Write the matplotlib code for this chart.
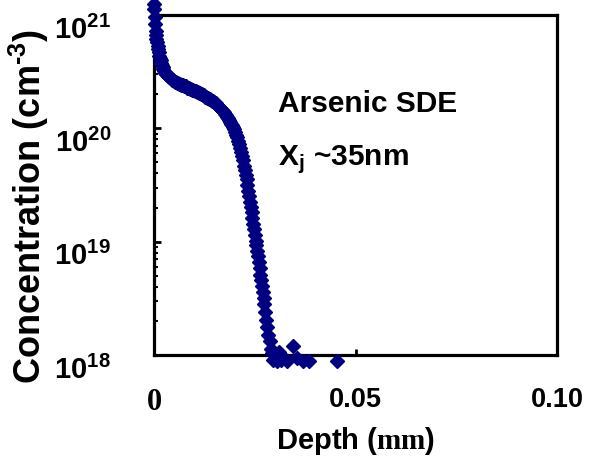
import matplotlib
matplotlib.use('Agg')
import matplotlib.pyplot as plt
from matplotlib.transforms import ScaledTranslation

# SIMS profile: depth (um) and log10 concentration (cm^-3)
depth = [0.00000, 0.00010, 0.00020, 0.00030, 0.00040, 0.00050, 0.00060, 0.00075, 0.00090, 0.00105,
         0.00120, 0.00135, 0.00150, 0.00165, 0.00180, 0.00195, 0.00215, 0.00235, 0.00255, 0.00280,
         0.00305, 0.00330, 0.00355, 0.00380, 0.00405, 0.00430, 0.00455, 0.00480, 0.00505, 0.00530,
         0.00555, 0.00580, 0.00605, 0.00630, 0.00655, 0.00680, 0.00705, 0.00730, 0.00755, 0.00780,
         0.00805, 0.00830, 0.00855, 0.00880, 0.00905, 0.00930, 0.00955, 0.00980, 0.01005, 0.01030,
         0.01055, 0.01080, 0.01105, 0.01130, 0.01155, 0.01180, 0.01205, 0.01230, 0.01255, 0.01280,
         0.01305, 0.01330, 0.01355, 0.01380, 0.01405, 0.01430, 0.01455, 0.01480, 0.01505, 0.01530,
         0.01555, 0.01580, 0.01605, 0.01630, 0.01655, 0.01680, 0.01705, 0.01730, 0.01755, 0.01780,
         0.01805, 0.01830, 0.01855, 0.01880, 0.01905, 0.01930, 0.01955, 0.01980, 0.02005, 0.02030,
         0.02055, 0.02080, 0.02105, 0.02130, 0.02155, 0.02180, 0.02205, 0.02230, 0.02255, 0.02280,
         0.02300, 0.02320, 0.02340, 0.02360, 0.02380, 0.02400, 0.02420, 0.02440, 0.02460, 0.02480,
         0.02500, 0.02520, 0.02540, 0.02560, 0.02580, 0.02600, 0.02620, 0.02640, 0.02660, 0.02680,
         0.02700, 0.02720, 0.02740, 0.02760, 0.02780, 0.02800, 0.02830, 0.02870, 0.02900, 0.02930,
         0.02960, 0.03000, 0.03050, 0.03100, 0.03150, 0.03200, 0.03300, 0.03450, 0.03550, 0.03700,
         0.03850, 0.04550]
log_conc = [21.05, 21.10, 20.98, 20.92, 20.86, 20.82, 20.79, 20.76, 20.73, 20.70,
            20.67, 20.64, 20.62, 20.60, 20.58, 20.56, 20.54, 20.52, 20.51, 20.49,
            20.48, 20.47, 20.46, 20.45, 20.45, 20.44, 20.43, 20.43, 20.42, 20.41,
            20.41, 20.40, 20.40, 20.39, 20.39, 20.38, 20.38, 20.38, 20.37, 20.37,
            20.37, 20.36, 20.36, 20.36, 20.35, 20.35, 20.34, 20.34, 20.33, 20.33,
            20.32, 20.32, 20.31, 20.31, 20.30, 20.30, 20.29, 20.29, 20.28, 20.28,
            20.27, 20.27, 20.26, 20.26, 20.25, 20.24, 20.24, 20.23, 20.22, 20.22,
            20.21, 20.20, 20.19, 20.18, 20.17, 20.16, 20.15, 20.14, 20.13, 20.12,
            20.10, 20.09, 20.07, 20.06, 20.04, 20.03, 20.01, 19.99, 19.97, 19.94,
            19.92, 19.89, 19.86, 19.83, 19.79, 19.76, 19.72, 19.67, 19.63, 19.59,
            19.55, 19.50, 19.45, 19.40, 19.35, 19.31, 19.26, 19.21, 19.16, 19.11,
            19.06, 19.01, 18.97, 18.92, 18.87, 18.82, 18.77, 18.71, 18.66, 18.61,
            18.56, 18.50, 18.45, 18.38, 18.31, 18.25, 18.18, 18.12, 18.05, 18.02,
            17.96, 18.00, 17.95, 18.03, 17.96, 17.98, 17.95, 18.08, 17.97, 17.95,
            17.95, 17.95]

xticks = [0, 0.05, 0.10]
xtick_labels = [r'$\mathbf{0}$', '0.05', '0.10']
yticks = [1e18, 1e19, 1e20, 1e21]
ytick_labels = [r'$10^{18}$', r'$10^{19}$', r'$10^{20}$', r'$10^{21}$']

plt.rcParams['font.family'] = ['Liberation Sans', 'DejaVu Sans']
plt.rcParams['font.weight'] = 'bold'
plt.rcParams['mathtext.fontset'] = 'custom'
plt.rcParams['mathtext.rm'] = 'Liberation Sans:bold'
plt.rcParams['mathtext.it'] = 'Liberation Sans:bold'
plt.rcParams['mathtext.sf'] = 'Liberation Sans:bold'
plt.rcParams['mathtext.bf'] = 'Liberation Serif:bold'

fig = plt.figure(figsize=(5.95, 4.6), dpi=100)
ax = fig.add_axes([154/595, 1-356/460, 403/595, 340/460])

conc = [10 ** v for v in log_conc]
ax.plot(depth, conc, linestyle='none', marker='D', markersize=7.5,
        color='#000080', markeredgecolor='#000080', clip_on=False, zorder=3)

ax.set_yscale('log')
ax.set_xlim(0, 0.10)
ax.set_ylim(1e18, 1e21)

for s in ax.spines.values():
    s.set_linewidth(2.3)

ax.set_xticks(xticks)
ax.set_xticklabels(xtick_labels, fontsize=19.5, fontweight='bold')
ax.get_xticklabels()[0].set_fontsize(22)
ax.set_yticks(yticks)
ax.set_yticklabels(ytick_labels, fontsize=21)
ax.tick_params(axis='x', direction='in', length=4, width=2, pad=22)
ax.tick_params(axis='y', which='major', direction='in', length=5, width=2, pad=31)
ax.tick_params(axis='y', which='minor', direction='in', length=3, width=1.5)
ax.xaxis.set_minor_locator(matplotlib.ticker.NullLocator())

offset = ScaledTranslation(0, -8/72, fig.dpi_scale_trans)
for lab in ax.get_yticklabels():
    lab.set_transform(lab.get_transform() + offset)

ax.set_xlabel(r'Depth ($\mathbf{mm}$)', fontsize=21, fontweight='bold', labelpad=6)
ax.set_ylabel(r'Concentration (cm$^{\text{-}3}$)', fontsize=26, fontweight='bold')
ax.yaxis.set_label_coords(-0.255, 0.44)

ax.text(0.308, 0.718, 'Arsenic SDE', transform=ax.transAxes, fontsize=21.5, fontweight='bold')
ax.text(0.308, 0.562, r'X$_{j}$ ~35nm', transform=ax.transAxes, fontsize=21.5, fontweight='bold')

fig.savefig('out.png', dpi=100)
